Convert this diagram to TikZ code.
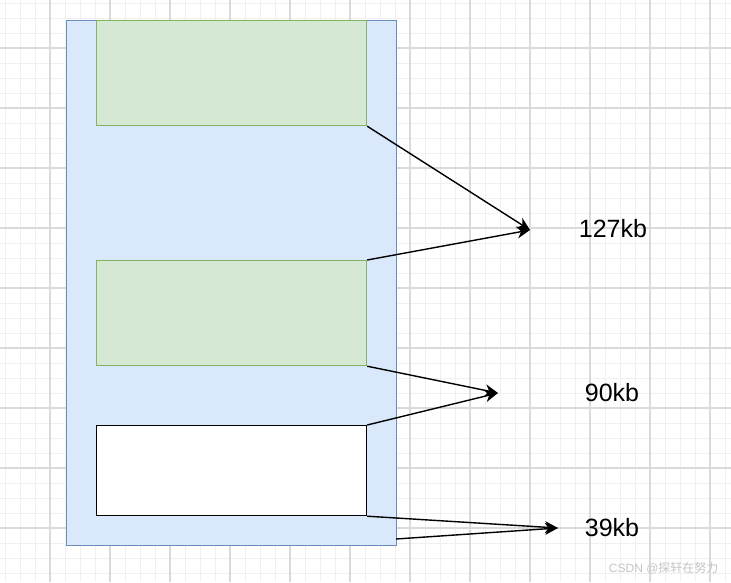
\documentclass[tikz,border=0pt]{standalone}
\usepackage{fontspec}
\setmainfont{Liberation Sans}
\newfontfamily\cjkfont{Noto Sans CJK SC}
\usetikzlibrary{arrows.meta,positioning}
\definecolor{heapfill}{HTML}{DAE8FC}
\definecolor{heapline}{HTML}{6C8EBF}
\definecolor{usedfill}{HTML}{D5E8D4}
\definecolor{usedline}{HTML}{82B366}
\definecolor{gridminor}{HTML}{F0F0F0}
\definecolor{gridmajor}{HTML}{DADADA}
\definecolor{mark}{HTML}{C4C4C4}
\tikzset{
  block/.style={anchor=north west, inner sep=0pt, line width=1.2pt},
  heap/.style={block, draw=heapline, fill=heapfill},
  used/.style={block, draw=usedline, fill=usedfill},
  freeblk/.style={block, draw=black, fill=white},
  link/.style={-{Stealth[length=13pt,width=12pt,inset=4pt]}, line width=1.4pt},
  size/.style={font=\fontsize{25}{29}\selectfont},
}
\begin{document}
\begin{tikzpicture}[x=1pt,y=-1pt]
\useasboundingbox (0,0) rectangle (731,582);

% ---- grid ----------------------------------------------------------
\foreach \gx in {5,20,...,731} \draw[gridminor, line width=1pt] (\gx,0) -- (\gx,582);
\foreach \gy in {3,18,...,582} \draw[gridminor, line width=1pt] (0,\gy) -- (731,\gy);
\foreach \gx in {50,110,...,731} \draw[gridmajor, line width=1.5pt] (\gx,0) -- (\gx,582);
\foreach \gy in {48,108,...,582} \draw[gridmajor, line width=1.5pt] (0,\gy) -- (731,\gy);

% ---- memory blocks -------------------------------------------------
\node[heap, minimum width=330pt, minimum height=525pt] (mem) at (66,20) {};
\node[used, minimum width=270pt, minimum height=105pt] (top) at (96,20) {};
\node[used, minimum width=270pt, minimum height=105pt] (mid) at (96,260) {};
\node[freeblk, minimum width=270pt, minimum height=90pt] (low) at (96,425) {};
\coordinate (memend) at (396,539);

% ---- sizes ---------------------------------------------------------
\coordinate (t127) at (530,230);
\coordinate (t90)  at (498,393);
\coordinate (t39)  at (558,528);
\node[size] (s127) at (613,229) {127kb};
\node[size] (s90)  at (612,393) {90kb};
\node[size] (s39)  at (612,528) {39kb};

\draw[link] (top.south east) -- (t127);
\draw[link] (mid.north east) -- (t127);
\draw[link] (mid.south east) -- (t90);
\draw[link] (low.north east) -- (t90);
\draw[link] (low.south east) -- (t39);
\draw[link] (memend) -- (t39);

\node[anchor=east, text=mark, font=\fontsize{12}{14}\selectfont] (tag) at (722,568)
     {CSDN @{\cjkfont 探轩在努力}};
\end{tikzpicture}
\end{document}
